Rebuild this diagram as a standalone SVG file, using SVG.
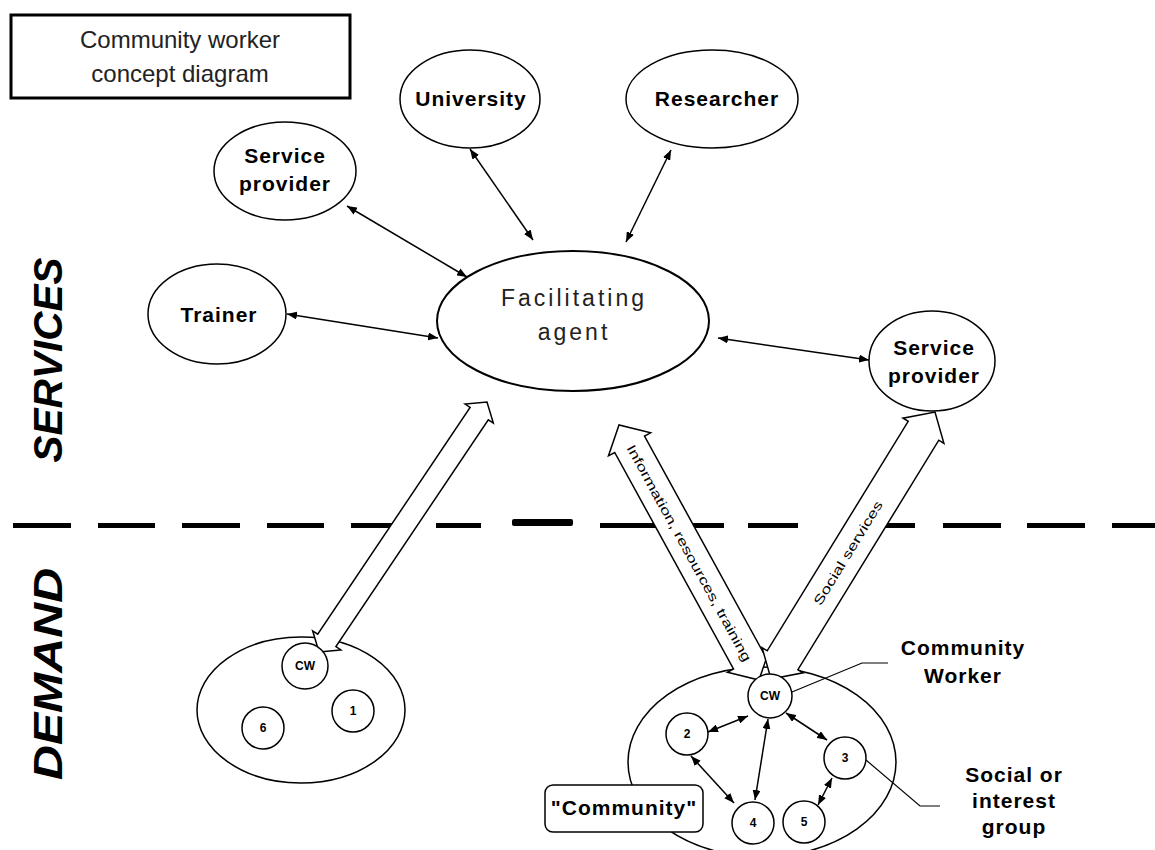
<svg xmlns="http://www.w3.org/2000/svg" width="1155" height="850" viewBox="0 0 1155 850">
<defs>
<marker id="ah" viewBox="0 0 10 8" refX="10" refY="4" markerWidth="10" markerHeight="8" markerUnits="userSpaceOnUse" orient="auto-start-reverse">
<path d="M0,0 L10,4 L0,8 z" fill="#000"/>
</marker>
<style>
.node{fill:#fff;stroke:#000;stroke-width:1.5}
.lbl{font-family:"Liberation Sans",Arial,sans-serif;font-weight:bold;font-size:21px;letter-spacing:1px;text-anchor:middle;fill:#000}
.sm{font-family:"Liberation Sans",Arial,sans-serif;font-weight:bold;font-size:12px;text-anchor:middle;fill:#000}
.thin{font-family:"Liberation Sans",Arial,sans-serif;font-size:24px;text-anchor:middle;fill:#222}
.side{font-family:"Liberation Sans",Arial,sans-serif;font-weight:bold;font-style:italic;font-size:40px;text-anchor:middle;fill:#000}
.con{stroke:#000;stroke-width:1.5;fill:none;marker-start:url(#ah);marker-end:url(#ah)}
.call{stroke:#000;stroke-width:1.2;fill:none}
.big{fill:#fff;stroke:#000;stroke-width:1.5}
.atx{font-family:"Liberation Sans",Arial,sans-serif;font-size:13px;text-anchor:middle;dominant-baseline:central;fill:#000}
.dash{fill:#000}
</style>
</defs>
<rect width="1155" height="850" fill="#fff"/>

<g id="title">
<rect x="11" y="15" width="339" height="83" fill="#fff" stroke="#000" stroke-width="3"/>
<text class="thin" x="180" y="48">Community worker</text>
<text class="thin" x="180" y="82">concept diagram</text>
</g>

<g id="side-labels">
<text class="side" transform="translate(62,360) rotate(-90)" textLength="205" lengthAdjust="spacingAndGlyphs">SERVICES</text>
<text class="side" transform="translate(62,674) rotate(-90)" textLength="212" lengthAdjust="spacingAndGlyphs">DEMAND</text>
</g>

<g id="divider">
<rect class="dash" x="13" y="523" width="58" height="5"/>
<rect class="dash" x="98" y="523" width="57" height="5"/>
<rect class="dash" x="182" y="523" width="58" height="5"/>
<rect class="dash" x="267" y="523" width="57" height="5"/>
<rect class="dash" x="351" y="523" width="58" height="5"/>
<rect class="dash" x="436" y="523" width="45" height="5"/>
<rect class="dash" x="512" y="519" width="61" height="7" rx="2"/>
<rect class="dash" x="600" y="523" width="58" height="5"/>
<rect class="dash" x="684" y="523" width="40" height="5"/>
<rect class="dash" x="748" y="523" width="50" height="5"/>
<rect class="dash" x="857" y="523" width="58" height="5"/>
<rect class="dash" x="943" y="523" width="58" height="5"/>
<rect class="dash" x="1027" y="523" width="58" height="5"/>
<rect class="dash" x="1112" y="523" width="43" height="5"/>
</g>

<g id="community-left">
<ellipse class="node" cx="301" cy="710" rx="104" ry="73"/>
</g>

<g id="community-right">
<ellipse class="node" cx="762" cy="762" rx="134" ry="95"/>
</g>

<g id="connectors">
<line class="con" x1="347" y1="206" x2="467" y2="277"/>
<line class="con" x1="470" y1="149" x2="533" y2="240"/>
<line class="con" x1="671" y1="150" x2="626" y2="242"/>
<line class="con" x1="287" y1="314" x2="438" y2="338"/>
<line class="con" x1="718" y1="338" x2="869" y2="360"/>
<line class="con" x1="708" y1="732" x2="748" y2="716"/>
<line class="con" x1="768" y1="719" x2="755" y2="800"/>
<line class="con" x1="786" y1="713" x2="827" y2="740"/>
<line class="con" x1="691" y1="756" x2="734" y2="803"/>
<line class="con" x1="832" y1="778" x2="818" y2="805"/>
<polyline class="call" points="866,760 920,806 940,806"/>
<polyline class="call" points="792,692 862,663 888,663"/>
</g>

<g id="big-arrows">
<polygon class="big" points="319,652 340.9,649.9 335.9,646.5 488.3,419.8 493.3,423.1 487,402 465.1,404.1 470.1,407.5 317.7,634.2 312.7,630.9"/>
<polygon class="big" points="759,680 769.5,649.2 763.3,652.5 644.5,436.1 650.6,432.8 619,425 608.5,455.8 614.7,452.5 733.5,668.9 727.4,672.3"/>
<polygon class="big" points="771,679 803,672.8 797.9,669.7 938.8,440.2 943.9,443.3 935,412 903,418.2 908.2,421.3 767.2,650.8 762.1,647.7"/>
<text class="atx" transform="translate(689,553) rotate(61.25)" textLength="245" lengthAdjust="spacingAndGlyphs">Information, resources, training</text>
<text class="atx" transform="translate(848,553) rotate(-58.4)" textLength="120" lengthAdjust="spacingAndGlyphs">Social services</text>
</g>

<g id="facilitating-agent">
<ellipse cx="573" cy="321" rx="136" ry="70" fill="#fff" stroke="#000" stroke-width="2"/>
<text class="thin" x="574" y="306" style="font-size:23px;letter-spacing:3px">Facilitating</text>
<text class="thin" x="574" y="340" style="font-size:23px;letter-spacing:3px">agent</text>
</g>

<g id="service-provider-1">
<ellipse class="node" cx="285" cy="171" rx="71" ry="49"/>
<text class="lbl" x="285" y="163">Service</text>
<text class="lbl" x="285" y="191">provider</text>
</g>

<g id="university">
<ellipse class="node" cx="470" cy="99" rx="70" ry="49"/>
<text class="lbl" x="471" y="106">University</text>
</g>

<g id="researcher">
<ellipse class="node" cx="712" cy="99" rx="86" ry="49"/>
<text class="lbl" x="717" y="106">Researcher</text>
</g>

<g id="trainer">
<ellipse class="node" cx="217" cy="314" rx="69" ry="50"/>
<text class="lbl" x="219" y="322">Trainer</text>
</g>

<g id="service-provider-2">
<ellipse class="node" cx="932" cy="361" rx="63" ry="50"/>
<text class="lbl" x="934" y="355">Service</text>
<text class="lbl" x="934" y="383">provider</text>
</g>

<g id="n6"><circle class="node" cx="263" cy="728" r="21"/><text class="sm" x="263" y="732">6</text></g>
<g id="n1"><circle class="node" cx="353" cy="711" r="21"/><text class="sm" x="353" y="715">1</text></g>

<g id="cw-left">
<circle class="node" cx="305" cy="666" r="23"/>
<text class="sm" x="305" y="670">CW</text>
</g>

<g id="cw-right">
<circle class="node" cx="770" cy="696" r="22"/>
<text class="sm" x="770" y="700">CW</text>
</g>

<g id="n2"><circle class="node" cx="687" cy="734" r="21"/><text class="sm" x="687" y="738">2</text></g>
<g id="n3"><circle class="node" cx="845" cy="758" r="21"/><text class="sm" x="845" y="762">3</text></g>
<g id="n4"><circle class="node" cx="753" cy="823" r="21"/><text class="sm" x="753" y="827">4</text></g>
<g id="n5"><circle class="node" cx="804" cy="822" r="21"/><text class="sm" x="804" y="826">5</text></g>

<g id="community-label">
<rect x="545" y="785" width="158" height="47" rx="8" fill="#fff" stroke="#000" stroke-width="1.5"/>
<text class="lbl" x="624" y="815">"Community"</text>
</g>

<g id="community-worker-label">
<text class="lbl" x="963" y="655">Community</text>
<text class="lbl" x="963" y="683">Worker</text>
</g>

<g id="social-group-label">
<text class="lbl" x="1014" y="782">Social or</text>
<text class="lbl" x="1014" y="808">interest</text>
<text class="lbl" x="1014" y="834">group</text>
</g>
</svg>
